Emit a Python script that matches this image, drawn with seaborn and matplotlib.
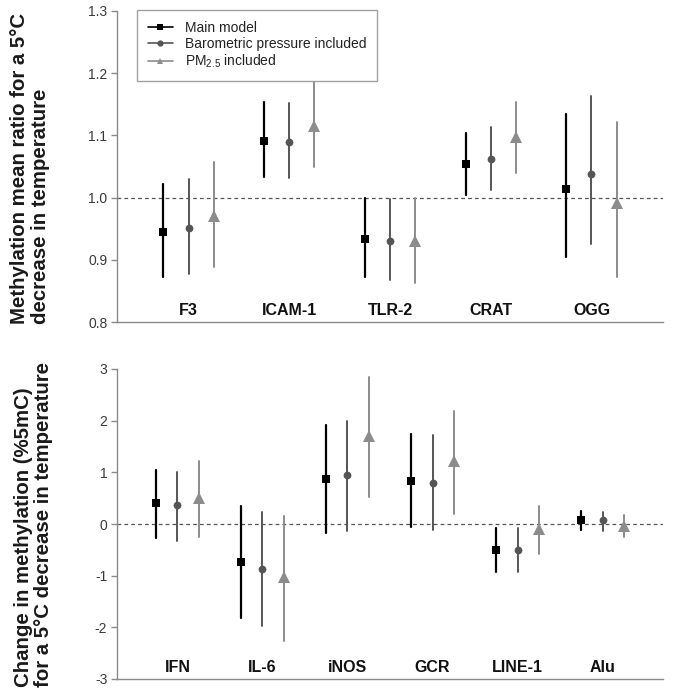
import numpy as np
import pandas as pd
import matplotlib
matplotlib.use("Agg")
import matplotlib.pyplot as plt
import seaborn as sns
from matplotlib.lines import Line2D

# ---------------- data ----------------
models = ["Main model", "Barometric pressure included", "PM$_{2.5}$ included"]

top_genes = ["F3", "ICAM-1", "TLR-2", "CRAT", "OGG"]
top_main_est = [0.945, 1.091, 0.933, 1.054, 1.014]
top_main_lo = [0.872, 1.033, 0.872, 1.004, 0.904]
top_main_hi = [1.022, 1.154, 1.000, 1.104, 1.134]
top_baro_est = [0.951, 1.090, 0.930, 1.062, 1.038]
top_baro_lo = [0.877, 1.031, 0.868, 1.012, 0.925]
top_baro_hi = [1.030, 1.152, 0.997, 1.114, 1.164]
top_pm_est = [0.970, 1.115, 0.930, 1.097, 0.991]
top_pm_lo = [0.888, 1.050, 0.863, 1.039, 0.872]
top_pm_hi = [1.057, 1.186, 1.000, 1.153, 1.121]

bot_genes = ["IFN", "IL-6", "iNOS", "GCR", "LINE-1", "Alu"]
bot_main_est = [0.41, -0.73, 0.87, 0.84, -0.50, 0.08]
bot_main_lo = [-0.27, -1.82, -0.17, -0.06, -0.93, -0.12]
bot_main_hi = [1.05, 0.34, 1.91, 1.74, -0.08, 0.26]
bot_baro_est = [0.36, -0.87, 0.95, 0.80, -0.50, 0.08]
bot_baro_lo = [-0.32, -1.97, -0.14, -0.11, -0.93, -0.13]
bot_baro_hi = [1.00, 0.23, 2.00, 1.73, -0.08, 0.24]
bot_pm_est = [0.50, -1.03, 1.71, 1.22, -0.09, -0.03]
bot_pm_lo = [-0.26, -2.26, 0.53, 0.19, -0.58, -0.25]
bot_pm_hi = [1.21, 0.15, 2.84, 2.19, 0.35, 0.17]

top_yticks = [0.8, 0.9, 1.0, 1.1, 1.2, 1.3]
bot_yticks = [-3, -2, -1, 0, 1, 2, 3]

colors = ["#000000", "#555555", "#8c8c8c"]
marker_list = ["s", "o", "^"]


def long_frame(genes, series):
    rows = []
    for model, (est, lo, hi) in zip(models, series):
        for g, e, l, h in zip(genes, est, lo, hi):
            for v in (l, e, h):
                rows.append({"gene": g, "model": model, "value": v})
    return pd.DataFrame(rows)


top_df = long_frame(top_genes, [(top_main_est, top_main_lo, top_main_hi),
                                (top_baro_est, top_baro_lo, top_baro_hi),
                                (top_pm_est, top_pm_lo, top_pm_hi)])
bot_df = long_frame(bot_genes, [(bot_main_est, bot_main_lo, bot_main_hi),
                                (bot_baro_est, bot_baro_lo, bot_baro_hi),
                                (bot_pm_est, bot_pm_lo, bot_pm_hi)])

# ---------------- style ----------------
sns.set_style("white")
plt.rcParams["font.family"] = ["Liberation Sans", "DejaVu Sans"]
plt.rcParams["mathtext.fontset"] = "custom"
plt.rcParams["mathtext.rm"] = "Liberation Sans"
plt.rcParams["mathtext.it"] = "Liberation Sans:italic"

fig = plt.figure(figsize=(6.77, 6.92), dpi=100)
L, R = 117 / 677, 663 / 677
ax1 = fig.add_axes([L, 1 - 322 / 692, R - L, (322 - 11) / 692])
ax2 = fig.add_axes([L, 1 - 679 / 692, R - L, (679 - 369) / 692])

msizes = {"s": 6.3, "o": 5.6, "^": 8.2}
lwidths = {"#000000": 1.6, "#555555": 1.4, "#8c8c8c": 1.4}


def draw(ax, df, genes, ref, ylim, yticks, fmt, ylabel, label_x, label_y):
    sns.pointplot(data=df, x="gene", y="value", hue="model", order=genes,
                  hue_order=models, estimator="median", errorbar=("pi", 100),
                  dodge=0.5, markers=marker_list, linestyle="none",
                  palette=colors, legend=False, ax=ax, markersize=6,
                  err_kws={"linewidth": 1.5})
    for ln in ax.lines:
        m = ln.get_marker()
        if m in msizes:
            ln.set_markersize(msizes[m])
            ln.set_markeredgewidth(0)
            ln.set_zorder(4)
        else:
            c = matplotlib.colors.to_hex(ln.get_color())
            ln.set_linewidth(lwidths.get(c, 1.4))
    ax.axhline(ref, color="#555555", lw=0.9, ls=(0, (3, 2.5)), zorder=0)
    n = len(genes)
    ax.set_xlim(-0.71, n - 1 + 0.71)
    ax.set_ylim(*ylim)
    ax.set_yticks(yticks)
    ax.set_yticklabels([fmt(t) for t in yticks])
    ax.set_xticks([])
    ax.set_xlabel("")
    for i, g in enumerate(genes):
        ax.text(i, 0.036, g, transform=ax.get_xaxis_transform(), ha="center",
                va="center", fontsize=11.5, fontweight="bold", color="#111111")
    for s in ["top", "right"]:
        ax.spines[s].set_visible(False)
    for s in ["left", "bottom"]:
        ax.spines[s].set_color("#8a8a8a")
        ax.spines[s].set_linewidth(1.0)
    ax.tick_params(axis="y", direction="out", length=4, width=1,
                   color="#8a8a8a", labelsize=10, labelcolor="#3a3a3a", pad=3,
                   left=True)
    ax.set_ylabel(ylabel, fontsize=14.7, fontweight="bold", color="#1a1a1a",
                  linespacing=1.1, multialignment="left")
    ax.yaxis.set_label_coords(label_x, label_y)


draw(ax1, top_df, top_genes, 1.0, (0.8, 1.3), top_yticks,
     lambda t: f"{t:.1f}",
     "Methylation mean ratio for a 5\u00b0C\ndecrease in temperature",
     -0.123, 0.494)
draw(ax2, bot_df, bot_genes, 0.0, (-3, 3), bot_yticks,
     lambda t: f"{t:d}",
     "Change in methylation (%5mC)\nfor a 5\u00b0C decrease in temperature",
     -0.117, 0.497)

handles = [Line2D([0], [0], color=c, marker=m, lw=1.2,
                  markersize=4.5, markeredgewidth=0)
           for c, m in zip(colors, marker_list)]
leg = ax1.legend(handles, models, loc="upper left",
                 bbox_to_anchor=(0.036, 1.003), borderaxespad=0,
                 fontsize=10, frameon=True, fancybox=False, handlelength=1.8,
                 handletextpad=0.85, labelspacing=0.12, borderpad=0.8)
leg.get_frame().set_edgecolor("#8a8a8a")
leg.get_frame().set_linewidth(1.0)
for t in leg.get_texts():
    t.set_color("#222222")

fig.savefig("out.png", dpi=100)
